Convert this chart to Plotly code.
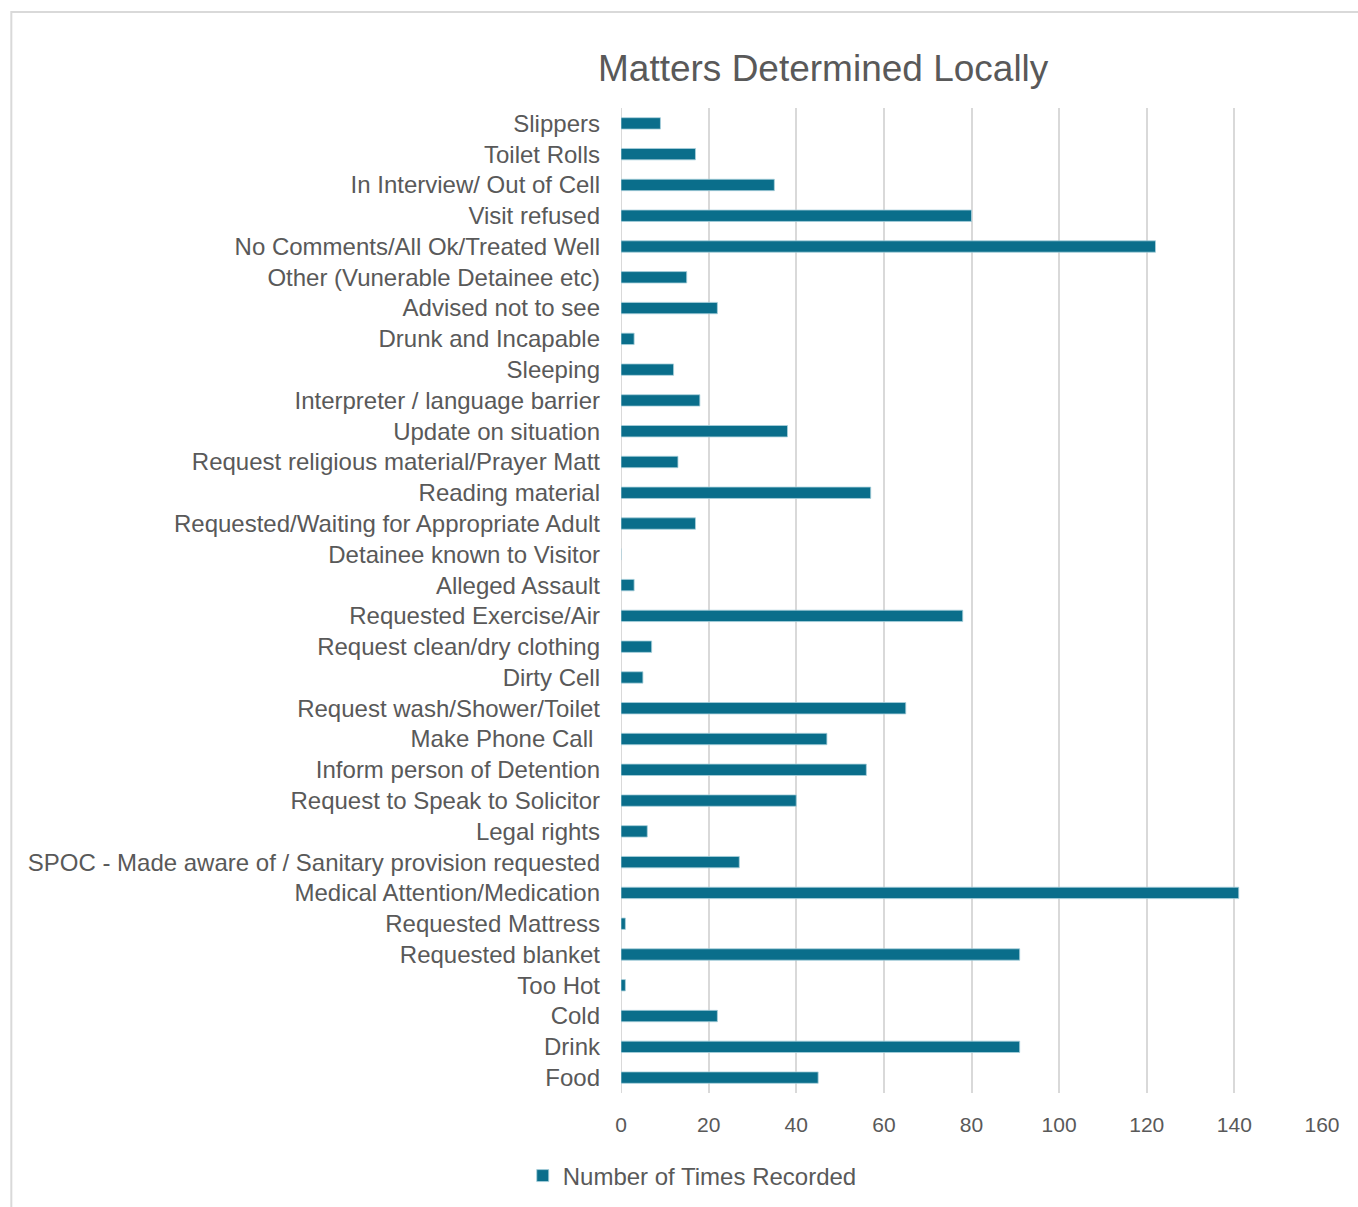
import plotly.graph_objects as go

categories = [
    "Slippers", "Toilet Rolls", "In Interview/ Out of Cell", "Visit refused",
    "No Comments/All Ok/Treated Well", "Other (Vunerable Detainee etc)",
    "Advised not to see", "Drunk and Incapable", "Sleeping",
    "Interpreter / language barrier", "Update on situation",
    "Request religious material/Prayer Matt", "Reading material",
    "Requested/Waiting for Appropriate Adult", "Detainee known to Visitor",
    "Alleged Assault", "Requested Exercise/Air", "Request clean/dry clothing",
    "Dirty Cell", "Request wash/Shower/Toilet", "Make Phone Call ",
    "Inform person of Detention", "Request to Speak to Solicitor", "Legal rights",
    "SPOC - Made aware of / Sanitary provision requested",
    "Medical Attention/Medication", "Requested Mattress", "Requested blanket",
    "Too Hot", "Cold", "Drink", "Food",
]
values = [9, 17, 35, 80, 122, 15, 22, 3, 12, 18, 38, 13, 57, 17, 0, 3, 78, 7, 5,
          65, 47, 56, 40, 6, 27, 141, 1, 91, 1, 22, 91, 45]
series_name = "Number of Times Recorded"
x_ticks = [0, 20, 40, 60, 80, 100, 120, 140, 160]

W, H = 1358, 1207
L, R, T, B = 620.7, 1322.3, 108, 1093
pw, ph = R - L, B - T

def px(x):
    return (x - L) / pw

def py(y):
    return (B - y) / ph

FONT = "Liberation Sans, Arial, sans-serif"
GRAY = "#595959"

fig = go.Figure(go.Bar(
    y=categories, x=values, orientation="h", name=series_name,
    marker=dict(color="#0a6e8b", line=dict(color="#a9d0dc", width=0.8)),
    showlegend=True,
))

fig.update_layout(
    width=W, height=H,
    margin=dict(l=L, r=W - R, t=T, b=H - B, pad=0, autoexpand=False),
    paper_bgcolor="white", plot_bgcolor="white",
    bargap=0.63,
    font=dict(family=FONT, color=GRAY),
    xaxis=dict(range=[0, 160], tickvals=x_ticks, showgrid=True,
               gridcolor="#d9d9d9", gridwidth=2, zeroline=False,
               showline=False, ticks="", tickfont=dict(size=21, color=GRAY),
               ticklabelstandoff=17, automargin=False),
    yaxis=dict(autorange="reversed", showgrid=False, showline=False,
               ticks="", tickfont=dict(size=24, color=GRAY),
               ticklabelstandoff=20, automargin=False),
    legend=dict(orientation="h", x=px(692), y=py(1176), xanchor="center",
                yanchor="middle", font=dict(size=24, color=GRAY),
                itemwidth=30, tracegroupgap=0),
    shapes=[
        # zero gridline
        dict(type="line", xref="x", yref="paper", x0=0, x1=0, y0=0, y1=1,
             line=dict(color="#d9d9d9", width=2), layer="below"),
        # chart border
        dict(type="rect", xref="paper", yref="paper",
             x0=px(10.5), x1=px(1400), y0=py(1250), y1=py(12),
             line=dict(color="#d9d9d9", width=2)),
    ],
    annotations=[
        dict(text="Matters Determined Locally", xref="paper", yref="paper",
             x=px(823), y=py(68), xanchor="center", yanchor="middle",
             showarrow=False, font=dict(size=37, color=GRAY, family=FONT)),
    ],
)

fig.write_html("out.html")
